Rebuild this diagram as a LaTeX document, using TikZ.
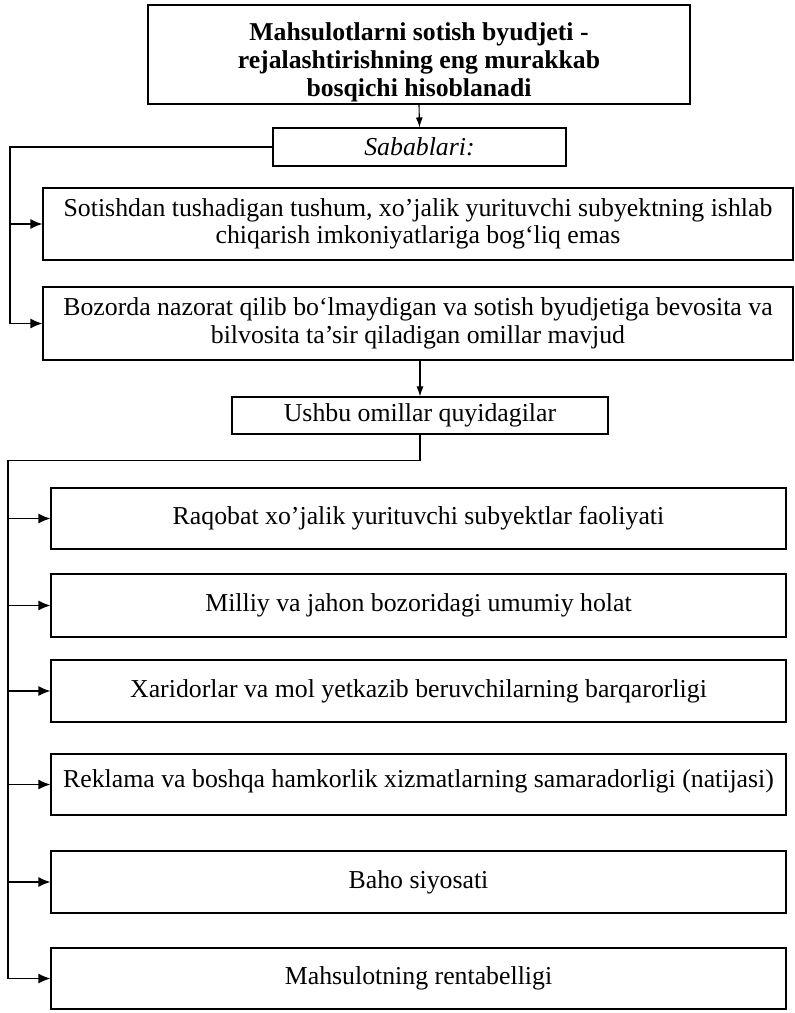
\documentclass[tikz,border=0pt]{standalone}
\usepackage{fontspec}
\setmainfont{Liberation Serif}
\usetikzlibrary{arrows.meta,calc}
\begin{document}
\begin{tikzpicture}[x=1pt,y=-1pt,
  box/.style={draw=black,line width=1.1pt,inner sep=0pt,align=center,
    font=\fontsize{25.8}{27.5}\selectfont},
  titlebox/.style={draw=black,line width=2pt,inner sep=0pt,align=center,
    font=\fontsize{25.7}{28}\selectfont\bfseries},
  conn/.style={draw=black,line width=1.4pt},
  arr/.style={conn,-{Latex[length=12pt,width=10pt]}},
  thinarr/.style={draw=black,line width=1.1pt,-{Latex[length=10pt,width=7pt]}}]
\useasboundingbox (0,0) rectangle (795,1013);
% top part
\node[titlebox,minimum width=542,minimum height=99] (title) at (419,54.5)
  {\raisebox{-15pt}[0pt][0pt]{\begin{tabular}{@{}c@{}}Mahsulotlarni sotish byudjeti -\\rejalashtirishning eng murakkab\\bosqichi hisoblanadi\end{tabular}}};
\node[box,minimum width=293,minimum height=38] (sab) at (419.5,147) {\itshape Sabablari:};
\node[box,minimum width=750,minimum height=72] (sot) at (418,224)
  {Sotishdan tushadigan tushum, xo’jalik yurituvchi subyektning ishlab\\chiqarish imkoniyatlariga bog‘liq emas};
\node[box,minimum width=750,minimum height=73] (boz) at (418,323.5)
  {Bozorda nazorat qilib bo‘lmaydigan va sotish byudjetiga bevosita va\\bilvosita ta’sir qiladigan omillar mavjud};
\node[box,minimum width=376,minimum height=37] (ush) at (420,415.5) {Ushbu omillar quyidagilar};
% factor boxes
\node[box,minimum width=735,minimum height=61] (raq) at (418.5,518.5) {Raqobat xo’jalik yurituvchi subyektlar faoliyati};
\node[box,minimum width=735,minimum height=63] (mil) at (418.5,605.5) {Milliy va jahon bozoridagi umumiy holat};
\node[box,minimum width=735,minimum height=62] (xar) at (418.5,691) {Xaridorlar va mol yetkazib beruvchilarning barqarorligi};
\node[box,minimum width=735,minimum height=61,text depth=12pt] (rek) at (418.5,784.5) {Reklama va boshqa hamkorlik xizmatlarning samaradorligi (natijasi)};
\node[box,minimum width=735,minimum height=62] (bah) at (418.5,882) {Baho siyosati};
\node[box,minimum width=735,minimum height=61] (mah) at (418.5,978.5) {Mahsulotning rentabelligi};
% connectors
\coordinate (L1) at (10,0);
\coordinate (L2) at (8,0);
\draw[thinarr] (title.south) -- (sab.north);
\draw[conn] (sab.west) -| (L1 |- boz.west);
\draw[arr] (L1 |- sot.west) -- (sot.west);
\draw[arr] (L1 |- boz.west) -- (boz.west);
\draw[thinarr] (boz.south -| ush.north) -- (ush.north);
\draw[conn] (ush.south) -- ++(0,26) coordinate (u2) -| (L2 |- mah.west);
\foreach \n in {raq,mil,xar,rek,bah,mah}
  \draw[arr] (L2 |- \n.west) -- (\n.west);
\end{tikzpicture}
\end{document}
